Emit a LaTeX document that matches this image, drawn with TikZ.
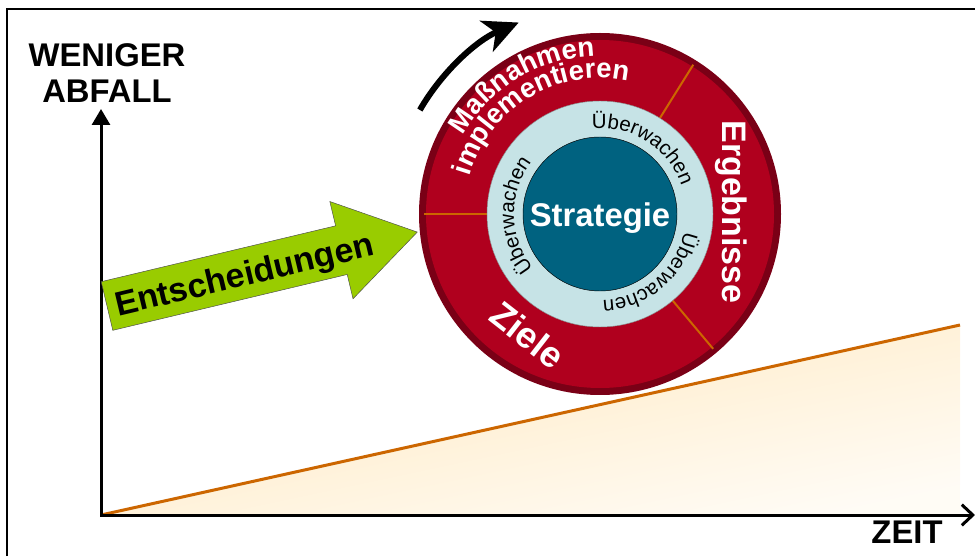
\documentclass[tikz,border=0pt]{standalone}
\usepackage{fontspec}
\setmainfont{Liberation Sans}
\usetikzlibrary{arrows.meta,decorations.text}

\definecolor{wheelred}{RGB}{176,0,30}
\definecolor{rimred}{RGB}{122,0,22}
\definecolor{ringblue}{RGB}{198,227,230}
\definecolor{coreteal}{RGB}{0,98,128}
\definecolor{arrowgreen}{RGB}{153,204,0}
\definecolor{lineorange}{RGB}{204,102,0}
\definecolor{paleorange}{RGB}{255,232,190}

\newcommand{\bigfont}{\fontsize{28}{31}\selectfont\bfseries}
\newcommand{\segfont}{\fontsize{23.5}{25}\selectfont\bfseries}
\newcommand{\ringfont}{\fontsize{17.5}{19}\selectfont}

\begin{document}
\begin{tikzpicture}[x=0.03cm, y=0.03cm,
    biglabel/.style={font=\bigfont, inner sep=0pt},
    divider/.style={draw=lineorange, line width=0.06cm},
    ringtext/.style={decorate, decoration={text along path, text align=center,
        text={|\ringfont|#1}}},
    segtext/.style={decorate, decoration={text along path, text align=center,
        text color=white, text={|\segfont|#1}}}
  ]
    \useasboundingbox (0,0) rectangle (975,556);

    % Frame round the picture (left and top only)
    \draw[line width=0.06cm] (7,0) -- (7,547) -- (975,547);

    % Define points of the axes and the trend line
    \coordinate (O) at (101,41);
    \coordinate (ytip) at (101,447);
    \coordinate (xtip) at (975,41);
    \coordinate (trend) at (960,231);
    \coordinate (trendfoot) at (960,41);

    % Shaded area below the trend line
    \shade[top color=paleorange, bottom color=paleorange!15, shading angle=12]
        (O) -- (trend) -- (trendfoot) -- cycle;
    \draw[lineorange, line width=0.09cm] (O) -- (trend);

    % Draw the axes
    \draw[line width=0.09cm, line join=miter,
        {Triangle[length=0.48cm, width=0.54cm]}-{Straight Barb[length=0.33cm, width=0.62cm]}]
        (ytip) -- (O) -- (xtip);

    % Axis labels
    \node[biglabel, align=center] (ylabel) at (107,483) {WENIGER\\ABFALL};
    \node[biglabel] (xlabel) at (907,24) {ZEIT};

    % Green arrow with its label
    \draw[draw=black!70, fill=arrowgreen, shift={(107,250)}, rotate=13.4]
        (0,-25) -- (241,-25) -- (241,-50) -- (319,0) -- (241,50) -- (241,25) -- (0,25) -- cycle;
    \node[biglabel, font=\fontsize{29}{31}\selectfont\bfseries, rotate=13.4] (decision) at (245,279) {Entscheidungen};

    % Define the wheel
    \coordinate (C) at (600,342);
    \fill[rimred] (C) circle[radius=181];
    \fill[wheelred] (C) circle[radius=174];
    \foreach \a in {180,58,-50}
        \draw[divider] ([shift={(\a:112)}]C) -- ([shift={(\a:176)}]C);
    \fill[ringblue, draw=black!45] (C) circle[radius=113];
    \fill[coreteal, draw=black] (C) circle[radius=77];
    \node[biglabel, text=white] (core) at (600,338) {Strategie};

    % Texts round the inner ring
    \foreach \a in {57,181,-50}
        \path[ringtext=Überwachen] ([shift={(\a+70:86)}]C) arc[start angle=\a+70, end angle=\a-70, radius=86];

    % Texts in the red ring
    \path[segtext=Maßnahmen] ([shift={(183:158)}]C) arc[start angle=183, end angle=59, radius=158];
    \path[segtext=implementieren] ([shift={(183:136)}]C) arc[start angle=183, end angle=59, radius=136];
    \node[biglabel, font=\fontsize{29}{31}\selectfont\bfseries, text=white, rotate=-90] (results) at (731,344) {Ergebnisse};
    \node[biglabel, font=\fontsize{31}{33}\selectfont\bfseries, text=white, rotate=-38] (goals) at (528,221) {Ziele};

    % Curved arrow above the wheel
    \draw[line width=0.18cm, -{Stealth[length=1.05cm, width=1cm, inset=0.3cm]}]
        ([shift={(150:208)}]C) arc[start angle=150, end angle=113, radius=208];

\end{tikzpicture}
\end{document}
